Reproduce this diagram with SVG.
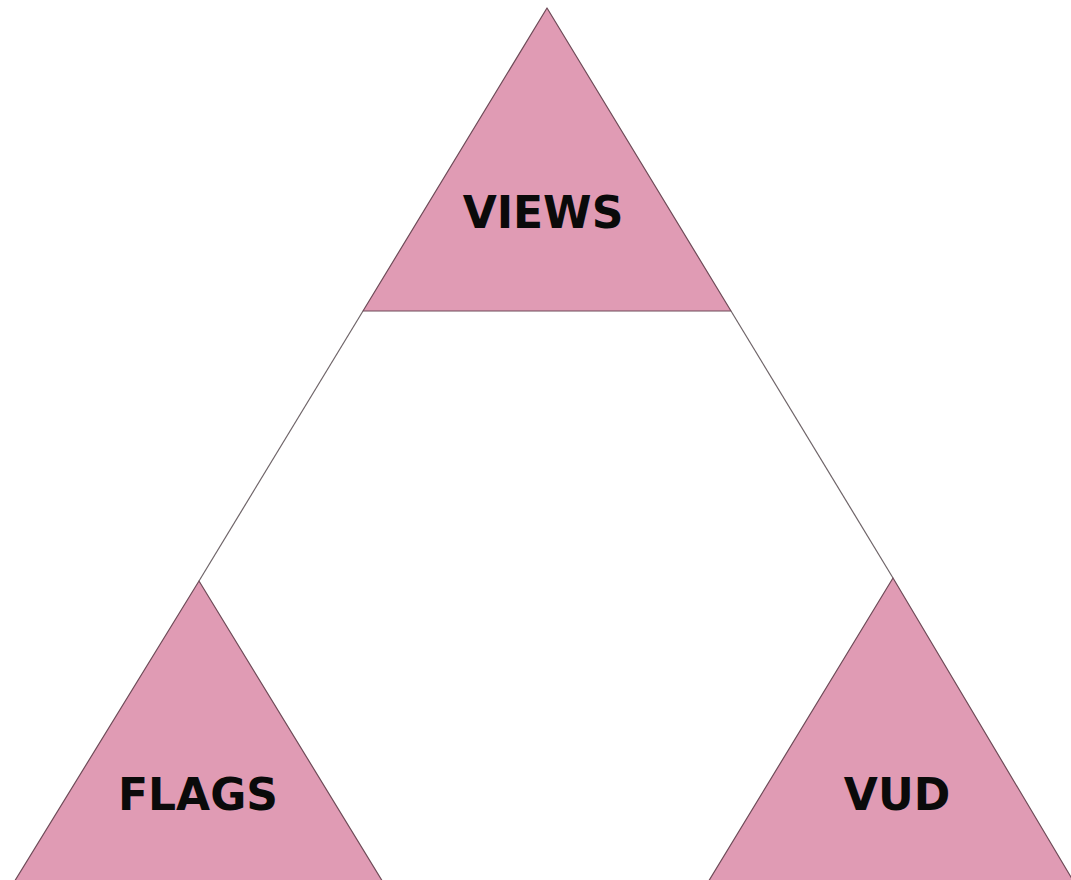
<svg xmlns="http://www.w3.org/2000/svg" width="1071" height="880" viewBox="0 0 1071 880">
<style>
.tri{fill:#e09bb4;stroke:#6e4b58;stroke-width:1.2;stroke-linejoin:round}
.lbl{font-family:"DejaVu Sans",sans-serif;font-weight:bold;font-size:44px;fill:#0a0a0a;text-anchor:middle}
.edge{stroke:#6e6468;stroke-width:1.2;fill:none}
</style>
<rect width="1071" height="880" fill="#ffffff"/>
<g id="connectors">
<line class="edge" x1="363" y1="311" x2="199" y2="581"/>
<line class="edge" x1="731" y1="311" x2="893" y2="578"/>
</g>
<g id="views">
<polygon class="tri" points="547,8 731,311 363,311"/>
<text class="lbl" x="543" y="228">VIEWS</text>
</g>
<g id="flags">
<polygon class="tri" points="199,581 383.5,883 13.5,883"/>
<text class="lbl" x="198" y="810">FLAGS</text>
</g>
<g id="vud">
<polygon class="tri" points="893,578 1074.5,883 707.5,883"/>
<text class="lbl" x="897" y="810">VUD</text>
</g>
</svg>
